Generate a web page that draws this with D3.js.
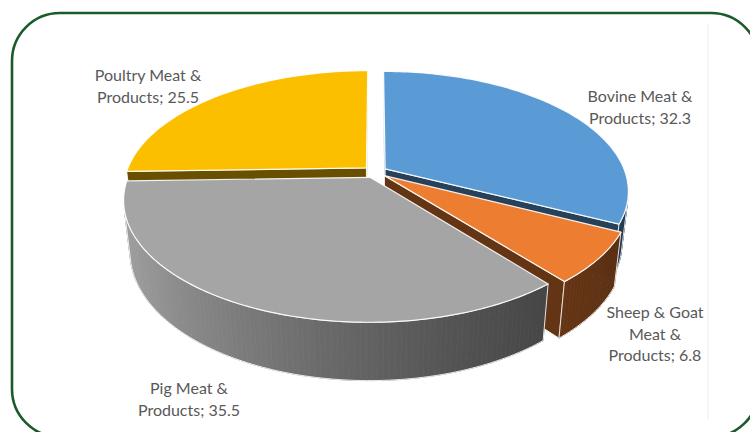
<!DOCTYPE html>
<html>
<head>
<meta charset="utf-8">
<script src="https://cdn.jsdelivr.net/npm/d3@7"></script>
<style>
  body { margin: 0; background: #fff; }
  svg { display: block; }
</style>
</head>
<body>
<svg id="chart" width="750" height="432"></svg>
<script>
// Meat production shares, clockwise from 12 o'clock
const categories = ["Bovine Meat &\nProducts", "Sheep & Goat\nMeat &\nProducts", "Pig Meat &\nProducts", "Poultry Meat &\nProducts"];
const values = [32.3, 6.8, 35.5, 25.5];
const colors = ["#5b9bd5", "#ed7d31", "#a5a5a5", "#fbbf00"];

// Label anchors (centre x, first baseline y)
const labelPos = [[640, 102], [655, 318], [189, 394], [148, 81]];

// 3D view settings (pie radius = 1 unit)
const cx = 375, cy = 172, K = 240;
const tilt = 29 * Math.PI / 180;
const dist = 4.8, thick = 0.25, explode = 0.05;
const cam = [0, dist * Math.sin(tilt), dist * Math.cos(tilt)];

const svg = d3.select("#chart");

// chart frame
svg.append("rect")
  .attr("x", 12).attr("y", 13).attr("width", 747).attr("height", 424)
  .attr("rx", 48).attr("ry", 48)
  .attr("fill", "#fff").attr("stroke", "#1a5a2c").attr("stroke-width", 2.6);
svg.append("line")
  .attr("x1", 708).attr("x2", 708).attr("y1", 24).attr("y2", 420)
  .attr("stroke", "#ececec").attr("stroke-width", 1);

const pie = d3.pie().sort(null).value(d => d).startAngle(0).endAngle(2 * Math.PI);
const arcs = pie(values);

function project(p) {
  const [x, y, z] = p;
  const v = y * Math.cos(tilt) - z * Math.sin(tilt);
  const w = y * Math.sin(tilt) + z * Math.cos(tilt);
  const s = dist / (dist - w);
  return [cx + x * s * K, cy - v * s * K, w];
}
const rim = (a, o, y) => [Math.sin(a) + o[0], y, -Math.cos(a) + o[1]];
const facing = (n, p) => n[0] * (cam[0] - p[0]) + n[1] * (cam[1] - p[1]) + n[2] * (cam[2] - p[2]) > 0;
const shade = (c, f) => { const r = d3.rgb(c); return d3.rgb(r.r * f, r.g * f, r.b * f).formatHex(); };
const line = d3.line().curve(d3.curveLinearClosed);

const walls = [];
const tops = [];

arcs.forEach((a, i) => {
  const mid = (a.startAngle + a.endAngle) / 2;
  const o = [explode * Math.sin(mid), -explode * Math.cos(mid)];
  const apexT = [o[0], 0, o[1]], apexB = [o[0], -thick, o[1]];
  const n = Math.max(4, Math.ceil((a.endAngle - a.startAngle) / 0.02));
  const angs = d3.range(n + 1).map(k => a.startAngle + (a.endAngle - a.startAngle) * k / n);

  // top face
  const topPts = [apexT, ...angs.map(t => rim(t, o, 0))].map(project);
  tops.push({ pts: topPts, fill: colors[i] });

  // radial cut faces
  [[a.startAngle, a.startAngle - Math.PI / 2], [a.endAngle, a.endAngle + Math.PI / 2]].forEach(([t, nt]) => {
    const nrm = [Math.sin(nt), 0, -Math.cos(nt)];
    const pts3 = [apexT, rim(t, o, 0), rim(t, o, -thick), apexB];
    const c = [(apexT[0] + pts3[1][0]) / 2, -thick / 2, (apexT[2] + pts3[1][2]) / 2];
    if (!facing(nrm, c)) return;
    const pts = pts3.map(project);
    walls.push({ type: "flat", pts, fill: shade(colors[i], 0.42), depth: d3.mean(pts, p => p[2]) });
  });

  // curved outer wall, front-facing part only
  let run = [];
  const runs = [];
  for (let k = 0; k < n; k++) {
    const t = (angs[k] + angs[k + 1]) / 2;
    const nrm = [Math.sin(t), 0, -Math.cos(t)];
    if (facing(nrm, rim(t, o, -thick / 2))) run.push(k);
    else if (run.length) { runs.push(run); run = []; }
  }
  if (run.length) runs.push(run);
  runs.forEach(r => {
    const segs = r.map(k => {
      const t0 = angs[k], t1 = angs[k + 1], t = (t0 + t1) / 2;
      const lt = (1 - Math.sin(t)) / 2;
      const f = 0.38 + 0.6 * Math.pow(lt, 1.5);
      return {
        pts: [rim(t0, o, 0), rim(t1, o, 0), rim(t1, o, -thick), rim(t0, o, -thick)].map(project),
        fill: shade(colors[i], f)
      };
    });
    const ks = [...r, r[r.length - 1] + 1];
    const upper = ks.map(k => project(rim(angs[k], o, 0)));
    const lower = ks.slice().reverse().map(k => project(rim(angs[k], o, -thick)));
    const outline = upper.concat(lower);
    walls.push({ type: "curved", segs, outline, depth: d3.mean(upper, p => p[2]) });
  });
});

const gWalls = svg.append("g");
walls.sort((a, b) => a.depth - b.depth).forEach(wl => {
  if (wl.type === "flat") {
    gWalls.append("path").attr("d", line(wl.pts.map(p => [p[0], p[1]])))
      .attr("fill", wl.fill).attr("stroke", "#fff").attr("stroke-opacity", 0.85)
      .attr("stroke-width", 1).attr("stroke-linejoin", "round");
  } else {
    const g = gWalls.append("g");
    wl.segs.forEach(s => {
      g.append("path").attr("d", line(s.pts.map(p => [p[0], p[1]])))
        .attr("fill", s.fill).attr("stroke", s.fill).attr("stroke-width", 0.8);
    });
    g.append("path").attr("d", line(wl.outline.map(p => [p[0], p[1]])))
      .attr("fill", "none").attr("stroke", "#fff").attr("stroke-opacity", 0.85)
      .attr("stroke-width", 1).attr("stroke-linejoin", "round");
  }
});

svg.append("g").selectAll("path").data(tops).join("path")
  .attr("d", d => line(d.pts.map(p => [p[0], p[1]])))
  .attr("fill", d => d.fill)
  .attr("stroke", "#fff").attr("stroke-opacity", 0.9).attr("stroke-width", 1.2)
  .attr("stroke-linejoin", "round");

// data labels
const labels = svg.append("g")
  .attr("font-family", "Lato, 'Open Sans', sans-serif")
  .attr("font-size", 16).attr("fill", "#595959").attr("text-anchor", "middle");
categories.forEach((c, i) => {
  const lines = c.split("\n");
  lines[lines.length - 1] += "; " + values[i];
  const t = labels.append("text").attr("x", labelPos[i][0]).attr("y", labelPos[i][1]);
  lines.forEach((l, j) => {
    t.append("tspan").attr("x", labelPos[i][0]).attr("dy", j ? 21.5 : 0).text(l);
  });
});
</script>
</body>
</html>
